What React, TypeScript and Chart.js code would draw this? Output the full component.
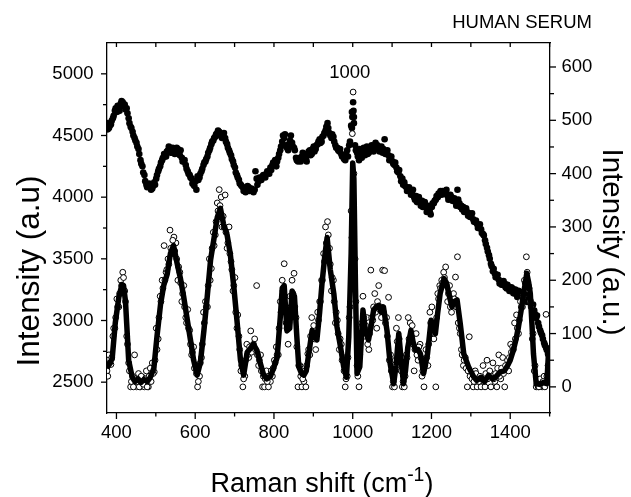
import React, { useEffect, useRef } from "react";
import { Chart, registerables } from "chart.js";

Chart.register(...registerables);

// Raman shift grid (cm-1), scan A
const ramanShift = [
  376, 381, 386, 391, 396, 401, 406, 411, 416, 421,
  426, 431, 436, 441, 446, 451, 456, 461, 466, 471,
  476, 481, 486, 491, 496, 501, 506, 511, 516, 521,
  526, 531, 536, 541, 546, 551, 556, 561, 566, 571,
  576, 581, 586, 591, 596, 601, 606, 611, 616, 621,
  626, 631, 636, 641, 646, 651, 656, 661, 666, 671,
  676, 681, 686, 691, 696, 701, 706, 711, 716, 721,
  726, 731, 736, 741, 746, 751, 756, 761, 766, 771,
  776, 781, 786, 791, 796, 801, 806, 811, 816, 821,
  826, 831, 836, 841, 846, 851, 856, 861, 866, 871,
  876, 881, 886, 891, 896, 901, 906, 911, 916, 921,
  926, 931, 936, 941, 946, 951, 956, 961, 966, 971,
  976, 981, 986, 991, 996, 1001, 1006, 1011, 1016, 1021,
  1026, 1031, 1036, 1041, 1046, 1051, 1056, 1061, 1066, 1071,
  1076, 1081, 1086, 1091, 1096, 1101, 1106, 1111, 1116, 1121,
  1126, 1131, 1136, 1141, 1146, 1151, 1156, 1161, 1166, 1171,
  1176, 1181, 1186, 1191, 1196, 1201, 1206, 1211, 1216, 1221,
  1226, 1231, 1236, 1241, 1246, 1251, 1256, 1261, 1266, 1271,
  1276, 1281, 1286, 1291, 1296, 1301, 1306, 1311, 1316, 1321,
  1326, 1331, 1336, 1341, 1346, 1351, 1356, 1361, 1366, 1371,
  1376, 1381, 1386, 1391, 1396, 1401, 1406, 1411, 1416, 1421,
  1426, 1431, 1436, 1441, 1446, 1451, 1456, 1461, 1466, 1471,
  1476, 1481, 1486, 1491, 1496, 1501,
];

// Raman shift grid (cm-1), interleaved samples B
const ramanShiftB = [
  378, 383, 388, 393, 398, 403, 408, 413, 418, 423,
  428, 433, 438, 443, 448, 453, 458, 463, 468, 473,
  478, 483, 488, 493, 498, 503, 508, 513, 518, 523,
  528, 533, 538, 543, 548, 553, 558, 563, 568, 573,
  578, 583, 588, 593, 598, 603, 608, 613, 618, 623,
  628, 633, 638, 643, 648, 653, 658, 663, 668, 673,
  678, 683, 688, 693, 698, 703, 708, 713, 718, 723,
  728, 733, 738, 743, 748, 753, 758, 763, 768, 773,
  778, 783, 788, 793, 798, 803, 808, 813, 818, 823,
  828, 833, 838, 843, 848, 853, 858, 863, 868, 873,
  878, 883, 888, 893, 898, 903, 908, 913, 918, 923,
  928, 933, 938, 943, 948, 953, 958, 963, 968, 973,
  978, 983, 988, 993, 998, 1003, 1008, 1013, 1018, 1023,
  1028, 1033, 1038, 1043, 1048, 1053, 1058, 1063, 1068, 1073,
  1078, 1083, 1088, 1093, 1098, 1103, 1108, 1113, 1118, 1123,
  1128, 1133, 1138, 1143, 1148, 1153, 1158, 1163, 1168, 1173,
  1178, 1183, 1188, 1193, 1198, 1203, 1208, 1213, 1218, 1223,
  1228, 1233, 1238, 1243, 1248, 1253, 1258, 1263, 1268, 1273,
  1278, 1283, 1288, 1293, 1298, 1303, 1308, 1313, 1318, 1323,
  1328, 1333, 1338, 1343, 1348, 1353, 1358, 1363, 1368, 1373,
  1378, 1383, 1388, 1393, 1398, 1403, 1408, 1413, 1418, 1423,
  1428, 1433, 1438, 1443, 1448, 1453, 1458, 1463, 1468, 1473,
  1478, 1483, 1488, 1493, 1498,
];

// Raw spectrum (filled dots, left axis)
const rawIntensity = [
  4600, 4560, 4590, 4640, 4700, 4690, 4730, 4760, 4770, 4750,
  4720, 4640, 4570, 4530, 4480, 4440, 4390, 4300, 4250, 4180,
  4100, 4090, 4080, 4070, 4120, 4150, 4210, 4250, 4300, 4350,
  4330, 4380, 4400, 4360, 4390, 4370, 4390, 4340, 4320, 4290,
  4260, 4210, 4180, 4150, 4100, 4130, 4170, 4160, 4210, 4260,
  4290, 4330, 4380, 4430, 4460, 4490, 4520, 4530, 4510, 4490,
  4480, 4430, 4380, 4340, 4290, 4240, 4180, 4140, 4100, 4080,
  4070, 4060, 4080, 4060, 4050, 4060, 4150, 4130, 4150, 4170,
  4180, 4190, 4200, 4240, 4260, 4280, 4250, 4320, 4380, 4450,
  4480, 4420, 4380, 4460, 4440, 4400, 4320, 4290, 4320, 4330,
  4350, 4310, 4340, 4380, 4350, 4410, 4390, 4430, 4470, 4450,
  4500, 4540, 4600, 4520, 4480, 4490, 4420, 4400, 4370, 4350,
  4330, 4300, 4380, 4420, 4580, 4770, 4420, 4360, 4300, 4350,
  4380, 4340, 4410, 4360, 4380, 4400, 4420, 4390, 4400, 4380,
  4360, 4470, 4350, 4340, 4320, 4290, 4260, 4240, 4200, 4170,
  4150, 4120, 4080, 4060, 4050, 4030, 4000, 4010, 3980, 3960,
  3970, 3940, 3920, 3900, 3880, 3920, 3950, 3980, 4000, 4030,
  4020, 4045, 4030, 4010, 3990, 4000, 3980, 3960, 4060, 3950,
  3930, 3920, 3900, 3880, 3870, 3850, 3820, 3800, 3780, 3760,
  3740, 3700, 3650, 3590, 3530, 3460, 3400, 3380, 3360, 3330,
  3310, 3290, 3300, 3260, 3270, 3240, 3260, 3230, 3210, 3240,
  3200, 3220, 3190, 3170, 3150, 3160, 3110, 3080, 3020, 2980,
  2920, 2880, 2820, 2780, 2730, 2700,
];

const rawIntensityB = [
  4550, 4580, 4620, 4660, 4720, 4740, 4700, 4780, 4740, 4710,
  4680, 4600, 4560, 4500, 4460, 4410, 4350, 4270, 4200, 4130,
  4080, 4110, 4060, 4090, 4100, 4180, 4230, 4280, 4320, 4330,
  4370, 4410, 4360, 4400, 4350, 4400, 4350, 4380, 4290, 4300,
  4230, 4190, 4160, 4110, 4090, 4060, 4140, 4190, 4230, 4280,
  4310, 4360, 4400, 4450, 4480, 4510, 4540, 4500, 4480, 4520,
  4450, 4400, 4360, 4310, 4260, 4200, 4160, 4110, 4090, 4050,
  4040, 4090, 4050, 4070, 4040, 4210, 4100, 4160, 4140, 4180,
  4160, 4210, 4190, 4220, 4280, 4300, 4290, 4350, 4410, 4500,
  4510, 4400, 4430, 4500, 4410, 4380, 4300, 4310, 4290, 4360,
  4330, 4290, 4370, 4340, 4390, 4370, 4420, 4450, 4440, 4490,
  4520, 4570, 4560, 4500, 4510, 4450, 4400, 4380, 4390, 4330,
  4310, 4350, 4330, 4450, 4690, 4650, 4380, 4330, 4390, 4320,
  4400, 4370, 4350, 4400, 4420, 4370, 4440, 4420, 4370, 4410,
  4390, 4350, 4380, 4300, 4330, 4270, 4280, 4210, 4220, 4130,
  4100, 4090, 4050, 4080, 4020, 4060, 3980, 3960, 4000, 3930,
  3920, 3960, 3880, 3930, 3860, 3950, 3970, 4010, 4030, 4050,
  4050, 4030, 4060, 3980, 4020, 3970, 3990, 3930, 3980, 3920,
  3900, 3880, 3910, 3850, 3840, 3870, 3800, 3810, 3750, 3780,
  3710, 3690, 3620, 3560, 3500, 3440, 3420, 3350, 3370, 3300,
  3290, 3320, 3270, 3290, 3240, 3270, 3220, 3250, 3190, 3220,
  3230, 3180, 3210, 3150, 3170, 3130, 3130, 3050, 3040, 2950,
  2900, 2850, 2800, 2760, 2720,
];

const peakRawShift = [998, 999, 1000, 1002, 1003];
const peakRawIntensity = [4560, 4650, 4690, 4700, 4600];

// Baseline-corrected spectrum (open circles, right axis)
const correctedIntensity = [
  30, 60, 42, 95, 110, 165, 150, 200, 215, 180,
  95, 45, 0, 20, 60, 0, 25, 0, 18, 0,
  30, 0, 35, 45, 28, 110, 90, 170, 200, 265,
  215, 240, 294, 250, 281, 270, 200, 215, 160, 190,
  130, 145, 106, 60, 75, 40, 0, 20, 55, 140,
  160, 150, 240, 222, 290, 285, 345, 370, 356, 320,
  360, 260, 300, 235, 180, 205, 110, 95, 30, 0,
  20, 80, 55, 105, 70, 90, 190, 40, 60, 0,
  0, 30, 0, 10, 20, 50, 75, 60, 160, 200,
  231, 120, 80, 170, 200, 213, 130, 0, 40, 0,
  10, 0, 62, 60, 130, 115, 70, 140, 160, 200,
  250, 300, 310, 260, 180, 200, 120, 125, 70, 80,
  55, 0, 20, 130, 330, 553, 240, 40, 0, 110,
  170, 95, 130, 70, 219, 125, 175, 110, 190, 150,
  219, 218, 130, 168, 60, 0, 0, 110, 130, 40,
  0, 0, 60, 130, 120, 115, 30, 100, 50, 80,
  20, 0, 70, 40, 140, 150, 90, 0, 175, 190,
  200, 215, 225, 160, 190, 140, 175, 206, 244, 110,
  70, 40, 55, 0, 94, 20, 0, 30, 0, 10,
  0, 40, 0, 50, 25, 0, 45, 10, 0, 60,
  15, 55, 0, 40, 30, 80, 75, 120, 135, 100,
  160, 150, 200, 244, 190, 160, 90, 30, 0, 0,
  15, 0, 20, 136, 40, 60,
];

const correctedIntensityB = [
  20, 45, 55, 110, 130, 150, 175, 190, 205, 160,
  80, 30, 10, 0, 15, 10, 0, 20, 5, 15,
  0, 20, 10, 25, 50, 70, 130, 160, 185, 200,
  220, 230, 260, 275, 255, 240, 225, 195, 175, 150,
  120, 110, 80, 65, 35, 25, 10, 45, 80, 120,
  150, 190, 200, 260, 265, 310, 330, 340, 300, 300,
  290, 270, 250, 220, 190, 140, 135, 70, 40, 15,
  50, 60, 75, 65, 80, 70, 60, 50, 30, 20,
  15, 10, 20, 30, 35, 45, 60, 110, 140, 180,
  170, 110, 120, 150, 175, 150, 75, 40, 20, 15,
  30, 40, 70, 95, 100, 90, 100, 125, 160, 200,
  235, 270, 285, 230, 205, 160, 140, 100, 90, 50,
  30, 15, 55, 150, 280, 400, 160, 20, 60, 120,
  130, 115, 80, 100, 130, 150, 140, 160, 145, 130,
  140, 120, 95, 50, 30, 10, 50, 85, 90, 30,
  10, 20, 55, 90, 95, 80, 70, 60, 75, 55,
  30, 40, 55, 80, 120, 105, 100, 130, 165, 185,
  195, 205, 190, 175, 150, 155, 165, 150, 120, 100,
  60, 50, 35, 30, 20, 15, 10, 25, 15, 20,
  15, 10, 25, 15, 30, 20, 15, 25, 35, 20,
  35, 25, 40, 50, 55, 65, 70, 90, 110, 125,
  150, 170, 195, 215, 185, 150, 100, 40, 5, 0,
  5, 10, 0, 20, 60,
];

const peakCircleShift = [999];
const peakCircleIntensity = [475];

// Smoothed fit (thick line, right axis)
const fitShift = [
  376, 383, 389, 397, 406, 414, 418, 423, 427, 431,
  440, 447, 455, 462, 470, 478, 486, 495, 503, 512,
  520, 529, 537, 545, 554, 562, 571, 579, 588, 596,
  605, 613, 622, 630, 639, 647, 656, 664, 672, 681,
  689, 698, 706, 715, 723, 732, 740, 748, 757, 765,
  774, 782, 791, 799, 808, 816, 821, 826, 833, 840,
  846, 852, 858, 863, 870, 876, 882, 888, 897, 903,
  909, 916, 922, 929, 935, 943, 952, 960, 969, 977,
  984, 990, 996, 1000, 1003, 1007, 1011, 1018, 1026, 1032,
  1040, 1047, 1053, 1060, 1066, 1072, 1078, 1087, 1095, 1104,
  1110, 1117, 1123, 1129, 1134, 1140, 1148, 1153, 1159, 1166,
  1172, 1180, 1190, 1199, 1205, 1210, 1216, 1222, 1232, 1238,
  1244, 1252, 1258, 1265, 1273, 1282, 1294, 1307, 1315, 1325,
  1335, 1345, 1355, 1365, 1375, 1385, 1392, 1400, 1408, 1415,
  1421, 1428, 1434, 1442, 1447, 1451, 1455, 1459, 1466, 1475,
  1484, 1493, 1497, 1501,
];
const fitIntensity = [
  35, 45, 52, 120, 168, 192, 190, 160, 105, 50,
  18, 10, 15, 8, 14, 10, 18, 35, 95, 155,
  190, 212, 250, 265, 232, 205, 168, 130, 88, 50,
  22, 45, 105, 165, 238, 275, 318, 335, 305, 285,
  250, 188, 125, 50, 22, 65, 72, 80, 68, 45,
  22, 15, 20, 35, 55, 130, 185, 190, 105, 110,
  180, 170, 95, 38, 25, 22, 30, 60, 106, 95,
  88, 140, 194, 245, 280, 220, 175, 113, 75, 38,
  18, 94, 250, 420, 390, 188, 25, 38, 144, 106,
  88, 115, 144, 150, 153, 140, 150, 106, 44, 6,
  40, 100, 50, 6, 30, 75, 106, 85, 69, 70,
  62, 25, 62, 125, 115, 100, 140, 175, 203, 195,
  175, 150, 160, 163, 119, 62, 38, 19, 12, 18,
  10, 22, 15, 20, 28, 30, 38, 50, 69, 90,
  113, 145, 175, 213, 195, 175, 120, 62, 6, 5,
  8, 6, 62, 70,
];

const xTicks = [400, 500, 600, 700, 800, 900, 1000, 1100, 1200, 1300, 1400, 1500];
const leftTicks = [2500, 2750, 3000, 3250, 3500, 3750, 4000, 4250, 4500, 4750, 5000];
const rightTicks = [0, 50, 100, 150, 200, 250, 300, 350, 400, 450, 500, 550, 600];

const FONT = "'Liberation Sans', Arial, Helvetica, sans-serif";
const TICK_SIZE = 18.5;
const TITLE_SIZE = 27;
const LEFT_TITLE_SIZE = 31.5;
const RIGHT_TITLE_SIZE = 29.5;

const tickMarks = {
  id: "tickMarks",
  afterDraw(chart: any) {
    const ctx = chart.ctx;
    const { left, right, top, bottom } = chart.chartArea;
    const xs = chart.scales.x;
    const ys = chart.scales.y;
    const y2s = chart.scales.y2;
    ctx.save();
    ctx.strokeStyle = "#000";
    ctx.lineWidth = 1.3;
    const seg = (a: number, b: number, c: number, d: number) => {
      ctx.beginPath();
      ctx.moveTo(a, b);
      ctx.lineTo(c, d);
      ctx.stroke();
    };
    xTicks.forEach((v) => {
      const px = xs.getPixelForValue(v);
      const major = v % 200 === 0;
      seg(px, bottom, px, bottom + (major ? 6 : 3.5));
      seg(px, top, px, top + 4);
    });
    leftTicks.forEach((v) => {
      const py = ys.getPixelForValue(v);
      const major = v % 500 === 0;
      seg(left - (major ? 6 : 4), py, left, py);
    });
    rightTicks.forEach((v) => {
      const py = y2s.getPixelForValue(v);
      const major = v % 100 === 0;
      seg(right, py, right + (major ? 6 : 4), py);
    });
    ctx.restore();
  },
};

const texts = {
  id: "texts",
  afterDraw(chart: any) {
    const ctx = chart.ctx;
    const xs = chart.scales.x;
    const ys = chart.scales.y;
    ctx.save();
    ctx.fillStyle = "#000";

    ctx.font = `${TICK_SIZE}px ${FONT}`;
    ctx.textAlign = "center";
    ctx.textBaseline = "middle";
    ctx.fillText("1000", xs.getPixelForValue(1000) - 3, ys.getPixelForValue(5000) - 1);
    ctx.textAlign = "right";
    ctx.fillText("HUMAN SERUM", 592, 23);

    ctx.save();
    ctx.font = `${LEFT_TITLE_SIZE}px ${FONT}`;
    ctx.translate(30, 271);
    ctx.rotate(-Math.PI / 2);
    ctx.textAlign = "center";
    ctx.textBaseline = "middle";
    ctx.fillText("Intensity (a.u)", 0, 0);
    ctx.restore();

    ctx.save();
    ctx.font = `${RIGHT_TITLE_SIZE}px ${FONT}`;
    ctx.translate(611, 242);
    ctx.rotate(Math.PI / 2);
    ctx.textAlign = "center";
    ctx.textBaseline = "middle";
    ctx.fillText("Intensity (a.u.)", 0, 0);
    ctx.restore();

    const base = "Raman shift (cm";
    const sup = "-1";
    const end = ")";
    ctx.font = `${TITLE_SIZE}px ${FONT}`;
    const wBase = ctx.measureText(base).width;
    const wEnd = ctx.measureText(end).width;
    ctx.font = `${TITLE_SIZE * 0.72}px ${FONT}`;
    const wSup = ctx.measureText(sup).width;
    const total = wBase + wSup + wEnd;
    let x0 = 322 - total / 2;
    const baseY = 492;
    ctx.textAlign = "left";
    ctx.textBaseline = "alphabetic";
    ctx.font = `${TITLE_SIZE}px ${FONT}`;
    ctx.fillText(base, x0, baseY);
    x0 += wBase;
    ctx.font = `${TITLE_SIZE * 0.72}px ${FONT}`;
    ctx.fillText(sup, x0, baseY - 11);
    x0 += wSup;
    ctx.font = `${TITLE_SIZE}px ${FONT}`;
    ctx.fillText(end, x0, baseY);
    ctx.restore();
  },
};

export default function App() {
  const ref = useRef<HTMLCanvasElement>(null);
  useEffect(() => {
    if (!ref.current) return;
    const tickFont = { family: FONT, size: TICK_SIZE };
    const circlePts = ramanShift.map((s, i) => ({ x: s, y: correctedIntensity[i] }));
    ramanShiftB.forEach((s, i) => circlePts.push({ x: s, y: correctedIntensityB[i] }));
    peakCircleShift.forEach((s, i) => circlePts.push({ x: s, y: peakCircleIntensity[i] }));
    const rawPts = ramanShift.map((s, i) => ({ x: s, y: rawIntensity[i] }));
    ramanShiftB.forEach((s, i) => rawPts.push({ x: s, y: rawIntensityB[i] }));
    peakRawShift.forEach((s, i) => rawPts.push({ x: s, y: peakRawIntensity[i] }));
    const chart = new Chart(ref.current, {
      type: "scatter",
      data: {
        datasets: [
          {
            label: "fit",
            data: fitShift.map((s, i) => ({ x: s, y: fitIntensity[i] })),
            yAxisID: "y2",
            showLine: true,
            borderColor: "#000",
            backgroundColor: "#000",
            borderWidth: 5.5,
            borderJoinStyle: "round",
            pointRadius: 0,
            tension: 0,
            order: 1,
          },
          {
            label: "corrected",
            data: circlePts,
            yAxisID: "y2",
            pointRadius: 2.9,
            pointBorderWidth: 1,
            borderColor: "#000",
            backgroundColor: "#fff",
            order: 2,
          },
          {
            label: "raw",
            data: rawPts,
            yAxisID: "y",
            pointRadius: 3.3,
            pointBorderWidth: 0,
            borderColor: "#000",
            backgroundColor: "#000",
            order: 3,
          },
        ],
      },
      options: {
        responsive: false,
        animation: false,
        devicePixelRatio: 1,
        layout: { padding: 0 },
        plugins: { legend: { display: false }, tooltip: { enabled: false } },
        scales: {
          x: {
            type: "linear",
            position: "bottom",
            min: 376,
            max: 1501,
            afterBuildTicks: (s: any) => {
              s.ticks = xTicks.map((v) => ({ value: v }));
            },
            afterFit: (s: any) => {
              s.height = 84;
            },
            ticks: {
              autoSkip: false,
              maxRotation: 0,
              padding: 9,
              color: "#000",
              font: tickFont,
              callback: (v: any) => (v % 200 === 0 && v < 1500 ? String(v) : ""),
            },
            grid: { display: false, drawTicks: false },
            border: { display: true, color: "#000", width: 1.3 },
          },
          x2: {
            type: "linear",
            position: "top",
            min: 376,
            max: 1501,
            afterFit: (s: any) => {
              s.height = 43;
            },
            ticks: { display: false },
            grid: { display: false, drawTicks: false },
            border: { display: true, color: "#000", width: 1.3 },
          },
          y: {
            type: "linear",
            position: "left",
            min: 2250,
            max: 5250,
            afterBuildTicks: (s: any) => {
              s.ticks = leftTicks.map((v) => ({ value: v }));
            },
            afterFit: (s: any) => {
              s.width = 107;
            },
            ticks: {
              autoSkip: false,
              padding: 13.5,
              color: "#000",
              font: tickFont,
              callback: (v: any) => (v % 500 === 0 ? String(v) : ""),
            },
            grid: { display: false, drawTicks: false },
            border: { display: true, color: "#000", width: 1.3 },
          },
          y2: {
            type: "linear",
            position: "right",
            min: -49,
            max: 645,
            afterBuildTicks: (s: any) => {
              s.ticks = rightTicks.map((v) => ({ value: v }));
            },
            afterFit: (s: any) => {
              s.width = 81;
            },
            ticks: {
              autoSkip: false,
              padding: 11.5,
              color: "#000",
              font: tickFont,
              callback: (v: any) => (v % 100 === 0 ? String(v) : ""),
            },
            grid: { display: false, drawTicks: false },
            border: { display: true, color: "#000", width: 1.3 },
          },
        },
      },
      plugins: [tickMarks, texts],
    } as any);
    return () => chart.destroy();
  }, []);
  return (
    <div style={{ position: "absolute", left: 0, top: 0, width: 631, height: 497, background: "#fff" }}>
      <canvas ref={ref} width={631} height={497} style={{ display: "block", width: 631, height: 497 }} />
    </div>
  );
}
